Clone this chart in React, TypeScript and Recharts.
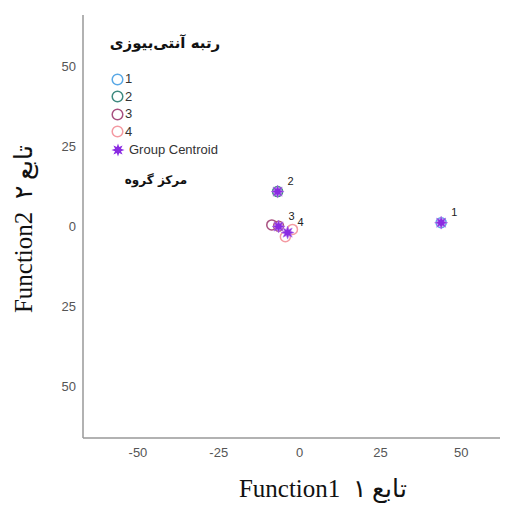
import React from 'react'
import { ScatterChart, Scatter, XAxis, YAxis } from 'recharts'

// group labels and colours
const groups = ['1', '2', '3', '4']
const groupColors = ['#5aa9e6', '#3f8a80', '#a8507f', '#f49aa2']

// individual cases per group (Function1, Function2)
const group1 = [{ x: 43.8, y: 1.2 }]
const group2 = [{ x: -6.8, y: 10.9 }]
const group3 = [{ x: -8.6, y: 0.5 }, { x: -6.5, y: 0.1 }]
const group4 = [{ x: -2.2, y: -0.9 }, { x: -4.4, y: -3.2 }]

// group centroids
const centroidX = [43.8, -6.8, -6.5, -3.7]
const centroidY = [1.2, 10.9, 0.0, -1.9]

const xTicks = [-50, -25, 0, 25, 50]
const yTicks = [-50, -25, 0, 25, 50]

const centroids = groups.map((g, i) => ({ x: centroidX[i], y: centroidY[i], label: g }))
const caseData = [group1, group2, group3, group4]

const starPoints = (cx: number, cy: number, ro: number, ri: number) => {
  const pts: string[] = []
  for (let i = 0; i < 16; i++) {
    const r = i % 2 === 0 ? ro : ri
    const a = (Math.PI / 8) * i - Math.PI / 2
    pts.push(`${cx + r * Math.cos(a)},${cy + r * Math.sin(a)}`)
  }
  return pts.join(' ')
}

const CentroidShape = (props: any) => {
  const { cx, cy, payload } = props
  return (
    <g>
      <polygon points={starPoints(cx, cy, 6.5, 3.2)} fill="#8a2be2" stroke="#b070e8" strokeWidth={0.6} />
      <text x={cx + 10} y={cy - 7} fontSize={11} fontFamily="Liberation Sans, Arial" fill="#222">
        {payload.label}
      </text>
    </g>
  )
}

const circleShape = (color: string) => (props: any) => (
  <circle cx={props.cx} cy={props.cy} r={5} fill="none" stroke={color} strokeWidth={1.5} />
)

const tickStyle = { fontSize: 13, fill: '#555', fontFamily: 'Liberation Sans, Arial' }

export default function App() {
  return (
    <div style={{ position: 'absolute', left: 0, top: 0, width: 505, height: 510, background: '#fff' }}>
      <ScatterChart width={505} height={510} margin={{ top: 15, right: 5, bottom: 0, left: 0 }}>
        <XAxis
          type="number"
          dataKey="x"
          domain={[-67, 62]}
          ticks={xTicks}
          allowDataOverflow
          height={72}
          tickLine={false}
          tickSize={4}
          tickMargin={6}
          tick={tickStyle}
          axisLine={{ stroke: '#999', strokeWidth: 1.5 }}
        />
        <YAxis
          type="number"
          dataKey="y"
          domain={[-66, 66]}
          ticks={yTicks}
          allowDataOverflow
          width={83}
          tickLine={false}
          tickSize={4}
          tickMargin={3}
          tick={tickStyle}
          tickFormatter={(v: number) => String(Math.abs(v))}
          axisLine={{ stroke: '#999', strokeWidth: 1.5 }}
        />
        {caseData.map((d, i) => (
          <Scatter
            key={groups[i]}
            name={groups[i]}
            data={d}
            shape={circleShape(groupColors[i])}
            isAnimationActive={false}
          />
        ))}
        <Scatter name="Group Centroid" data={centroids} shape={CentroidShape} isAnimationActive={false} />
      </ScatterChart>

      {/* legend */}
      <div
        style={{
          position: 'absolute',
          left: 95,
          top: 34,
          width: 140,
          textAlign: 'center',
          fontFamily: 'DejaVu Sans',
          fontWeight: 'bold',
          fontSize: 15,
          direction: 'rtl',
          whiteSpace: 'nowrap',
          color: '#111',
        }}
      >
        رتبه آنتی‌بیوزی
      </div>
      {groups.map((g, i) => (
        <div
          key={g}
          style={{
            position: 'absolute',
            left: 111,
            top: 72 + i * 17.5,
            display: 'flex',
            alignItems: 'center',
            fontFamily: 'Liberation Sans, Arial',
            fontSize: 13,
            color: '#333',
            lineHeight: '14px',
          }}
        >
          <svg width={13} height={13}>
            <circle cx={6.5} cy={6.5} r={5.3} fill="none" stroke={groupColors[i]} strokeWidth={1.5} />
          </svg>
          <span style={{ marginLeft: 1 }}>{g}</span>
        </div>
      ))}
      <div
        style={{
          position: 'absolute',
          left: 111,
          top: 143,
          display: 'flex',
          alignItems: 'center',
          fontFamily: 'Liberation Sans, Arial',
          fontSize: 13,
          color: '#333',
          lineHeight: '14px',
        }}
      >
        <svg width={14} height={14}>
          <polygon points={starPoints(7, 7, 6.5, 3.2)} fill="#8a2be2" />
        </svg>
        <span style={{ marginLeft: 4 }}>Group Centroid</span>
      </div>
      <div
        style={{
          position: 'absolute',
          left: 116,
          top: 173,
          width: 80,
          textAlign: 'center',
          fontFamily: 'DejaVu Sans',
          fontWeight: 'bold',
          fontSize: 12,
          direction: 'rtl',
          whiteSpace: 'nowrap',
          color: '#111',
        }}
      >
        مرکز گروه
      </div>

      {/* axis titles */}
      <div
        style={{
          position: 'absolute',
          left: 198,
          top: 474,
          width: 250,
          textAlign: 'center',
          fontFamily: 'Liberation Serif, Times New Roman',
          fontSize: 25,
          color: '#111',
          whiteSpace: 'pre',
        }}
      >
        {'Function1  تابع ۱'}
      </div>
      <div
        style={{
          position: 'absolute',
          left: 23,
          top: 229,
          width: 250,
          transform: 'translate(-50%, -50%) rotate(-90deg)',
          textAlign: 'center',
          fontFamily: 'Liberation Serif, Times New Roman',
          fontSize: 25,
          color: '#111',
          whiteSpace: 'pre',
        }}
      >
        {'Function2  تابع ۲'}
      </div>
    </div>
  )
}
